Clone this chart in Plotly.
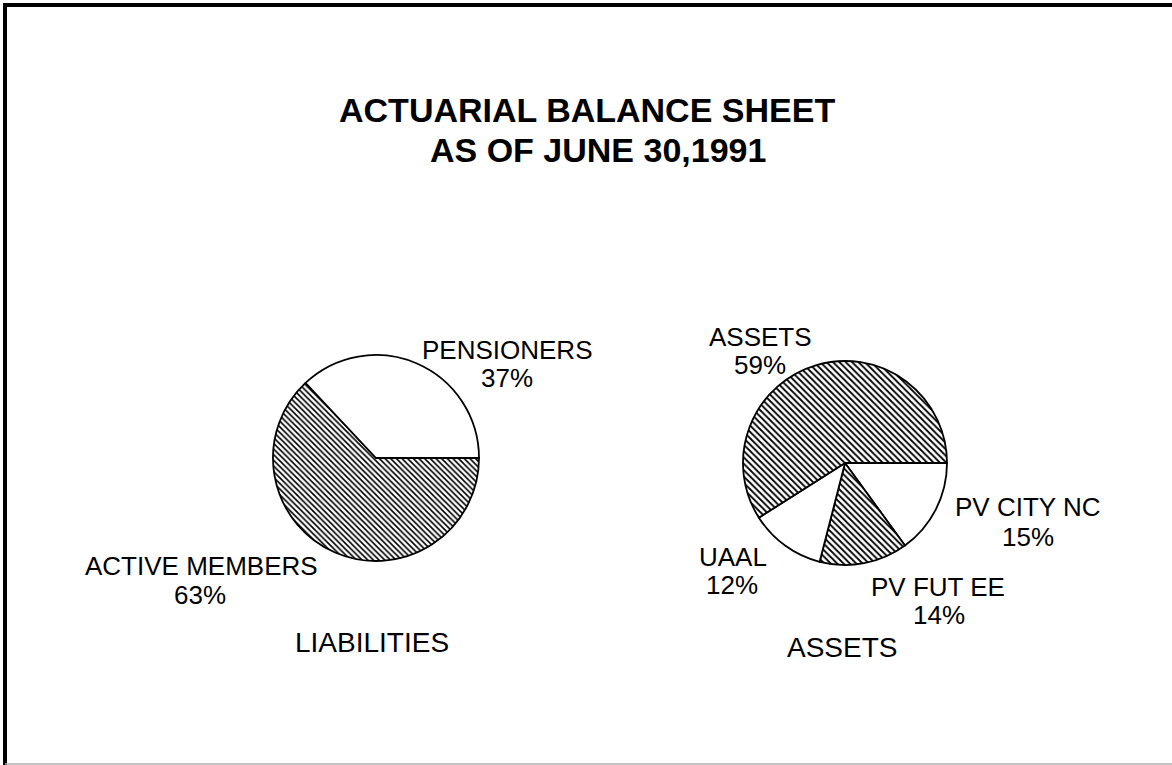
import plotly.graph_objects as go

# ---- data (listed counter-clockwise from 3 o'clock, as in the reference) ----
liab_labels = ["PENSIONERS", "ACTIVE MEMBERS"]
liab_values = [37, 63]
asset_labels = ["ASSETS", "UAAL", "PV FUT EE", "PV CITY NC"]
asset_values = [59, 12, 14, 15]
title_lines = ["ACTUARIAL BALANCE SHEET", "AS OF JUNE 30,1991"]
section_titles = ["LIABILITIES", "ASSETS"]

# ---- layout / styling (pixel positions on 1172x765 canvas) ----
W, H = 1172, 765
liab_hatched = [False, True]
asset_hatched = [True, False, True, False]
liab_box = (273, 479, 355, 561)      # x0, x1, y0, y1 px
asset_box = (743, 947, 361, 565)
liab_label_pos = [((507, 350), (507, 378)), ((201, 566), (200, 595))]
asset_label_pos = [((760, 337), (760, 365)), ((733, 557), (732, 585)),
                   ((938, 587), (939, 615)), ((1027, 507), (1028, 537))]
section_pos = [(372, 642), (842, 647)]
title_pos = [(587, 110), (598, 150)]

FONT = "Liberation Sans, Arial, sans-serif"


def px(x):
    return x / W


def py(y):
    return 1 - y / H


def pie(labels, values, hatched, box, hsize):
    x0, x1, y0, y1 = box
    # plotly draws clockwise from the rotation angle; reverse to get the
    # counter-clockwise order starting at 3 o'clock
    labels, values, hatched = labels[::-1], values[::-1], hatched[::-1]
    return go.Pie(
        labels=labels, values=values, sort=False,
        direction="clockwise", rotation=90,
        textinfo="none", hoverinfo="skip", showlegend=False,
        domain=dict(x=[px(x0), px(x1)], y=[py(y1), py(y0)]),
        marker=dict(
            colors=["white"] * len(values),
            line=dict(color="black", width=1.8),
            pattern=dict(
                shape=["\\" if h else "" for h in hatched],
                fgcolor="black", bgcolor="white",
                size=hsize, solidity=0.4,
            ),
        ),
    )


fig = go.Figure()
fig.add_trace(pie(liab_labels, liab_values, liab_hatched, liab_box, 4))
fig.add_trace(pie(asset_labels, asset_values, asset_hatched, asset_box, 4.5))

ann = []
for line, (x, y) in zip(title_lines, title_pos):
    ann.append(dict(text=f"<b>{line}</b>", x=px(x), y=py(y), xref="paper", yref="paper",
                    xanchor="center", yanchor="middle", showarrow=False,
                    font=dict(family=FONT, size=34, color="black")))

for labels, values, positions in [(liab_labels, liab_values, liab_label_pos),
                                  (asset_labels, asset_values, asset_label_pos)]:
    for lab, val, (p1, p2) in zip(labels, values, positions):
        ann.append(dict(text=lab, x=px(p1[0]), y=py(p1[1]), xref="paper", yref="paper",
                        xanchor="center", yanchor="middle", showarrow=False,
                        font=dict(family=FONT, size=26, color="black")))
        ann.append(dict(text=f"{val}%", x=px(p2[0]), y=py(p2[1]), xref="paper", yref="paper",
                        xanchor="center", yanchor="middle", showarrow=False,
                        font=dict(family=FONT, size=26, color="black")))

for t, (x, y) in zip(section_titles, section_pos):
    ann.append(dict(text=t, x=px(x), y=py(y), xref="paper", yref="paper",
                    xanchor="center", yanchor="middle", showarrow=False,
                    font=dict(family=FONT, size=28, color="black")))

shapes = [
    dict(type="line", xref="paper", yref="paper", x0=px(3), x1=1, y0=py(5), y1=py(5),
         line=dict(color="black", width=4)),
    dict(type="line", xref="paper", yref="paper", x0=px(5), x1=px(5), y0=py(3), y1=0,
         line=dict(color="black", width=4)),
    dict(type="line", xref="paper", yref="paper", x0=px(5), x1=1, y0=py(764), y1=py(764),
         line=dict(color="#b0b0b0", width=1.5)),
]

fig.update_layout(
    width=W, height=H, autosize=False,
    margin=dict(l=0, r=0, t=0, b=0),
    paper_bgcolor="white", plot_bgcolor="white",
    annotations=ann, shapes=shapes,
)

fig.write_html("out.html", config={"displayModeBar": False},
               post_script="document.body.style.margin='0';")
